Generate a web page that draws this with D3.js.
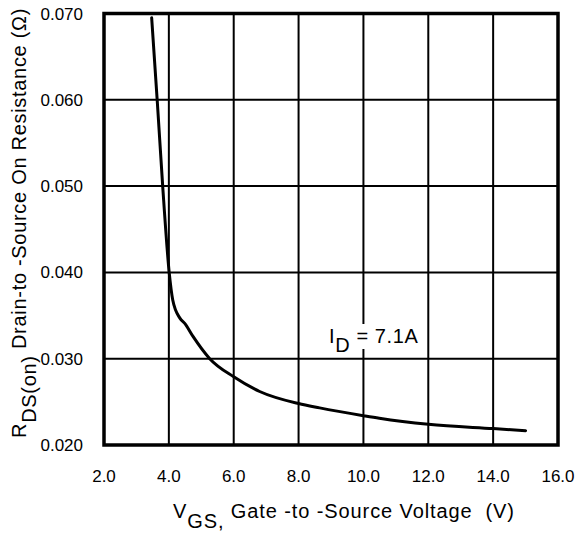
<!DOCTYPE html>
<html>
<head>
<meta charset="utf-8">
<script src="https://cdn.jsdelivr.net/npm/d3@7"></script>
<style>
  body { margin: 0; background: #fff; }
  text { font-family: "Liberation Sans", Arial, sans-serif; fill: #000; white-space: pre; }
</style>
</head>
<body>
<svg id="chart" width="579" height="535"></svg>
<script>
// values
var vgs  = [3.47, 3.64, 3.81, 4.01, 4.12, 4.34, 4.49, 4.75, 5.26, 6.0, 6.8, 8.0, 8.65, 10.0, 10.49, 12.0, 14.0, 15.0];
var rdson = [0.0695, 0.060, 0.050, 0.040, 0.0368, 0.0347, 0.0341, 0.03255, 0.030, 0.0279, 0.0262, 0.0248, 0.0243, 0.0234, 0.0231, 0.0224, 0.0219, 0.02166];
var xTicks = [2, 4, 6, 8, 10, 12, 14, 16];
var yTicks = [0.020, 0.030, 0.040, 0.050, 0.060, 0.070];

var svg = d3.select("#chart");

var xScale = d3.scaleLinear().domain([2, 16]).range([104, 558]);
var yScale = d3.scaleLinear().domain([0.020, 0.070]).range([445, 13.5]);

// grid
svg.append("g")
    .selectAll("line")
    .data(xTicks.slice(1, -1))
    .enter().append("line")
    .attr("x1", function(d) { return xScale(d); })
    .attr("x2", function(d) { return xScale(d); })
    .attr("y1", yScale(0.070))
    .attr("y2", yScale(0.020))
    .attr("stroke", "#000")
    .attr("stroke-width", 2);

svg.append("g")
    .selectAll("line")
    .data(yTicks.slice(1, -1))
    .enter().append("line")
    .attr("y1", function(d) { return yScale(d); })
    .attr("y2", function(d) { return yScale(d); })
    .attr("x1", xScale(2))
    .attr("x2", xScale(16))
    .attr("stroke", "#000")
    .attr("stroke-width", 2);

// curve
var line = d3.line()
    .x(function(d, i) { return xScale(vgs[i]); })
    .y(function(d) { return yScale(d); })
    .curve(d3.curveMonotoneX);

svg.append("path")
    .attr("d", line(rdson))
    .attr("fill", "none")
    .attr("stroke", "#000")
    .attr("stroke-width", 3)
    .attr("stroke-linecap", "round");

// frame
svg.append("rect")
    .attr("x", xScale(2))
    .attr("y", yScale(0.070))
    .attr("width", xScale(16) - xScale(2))
    .attr("height", yScale(0.020) - yScale(0.070))
    .attr("fill", "none")
    .attr("stroke", "#000")
    .attr("stroke-width", 3.5);

// tick labels
svg.append("g")
    .selectAll("text")
    .data(xTicks)
    .enter().append("text")
    .attr("x", function(d) { return xScale(d); })
    .attr("y", 482)
    .attr("text-anchor", "middle")
    .attr("font-size", 17)
    .text(function(d) { return d.toFixed(1); });

svg.append("g")
    .selectAll("text")
    .data(yTicks)
    .enter().append("text")
    .attr("x", 83)
    .attr("y", function(d) { return yScale(d) + 6; })
    .attr("text-anchor", "end")
    .attr("font-size", 17)
    .text(function(d) { return d.toFixed(3); });

// I_D annotation
svg.append("rect")
    .attr("x", 326)
    .attr("y", 324)
    .attr("width", 95)
    .attr("height", 25)
    .attr("fill", "#fff");

var ann = svg.append("text")
    .attr("x", 329)
    .attr("y", 343)
    .attr("font-size", 20)
    .attr("letter-spacing", 0.6);
ann.append("tspan").text("I");
ann.append("tspan").attr("dy", 9).text("D");
ann.append("tspan").attr("dy", -9).text(" = 7.1A");

// x title
var xt = svg.append("text")
    .attr("x", 173)
    .attr("y", 518)
    .attr("font-size", 20)
    .attr("letter-spacing", 0.9);
xt.append("tspan").text("V");
xt.append("tspan").attr("dy", 10).text("GS,");
xt.append("tspan").attr("dy", -10).text(" Gate -to -Source Voltage  (V)");

// y title
var yt = svg.append("text")
    .attr("transform", "translate(26,438) rotate(-90)")
    .attr("font-size", 20)
    .attr("letter-spacing", 0.7);
yt.append("tspan").text("R");
yt.append("tspan").attr("dy", 10).text("DS(on)");
yt.append("tspan").attr("dy", -10).text(" Drain-to -Source On Resistance (\u03A9)");
</script>
</body>
</html>
